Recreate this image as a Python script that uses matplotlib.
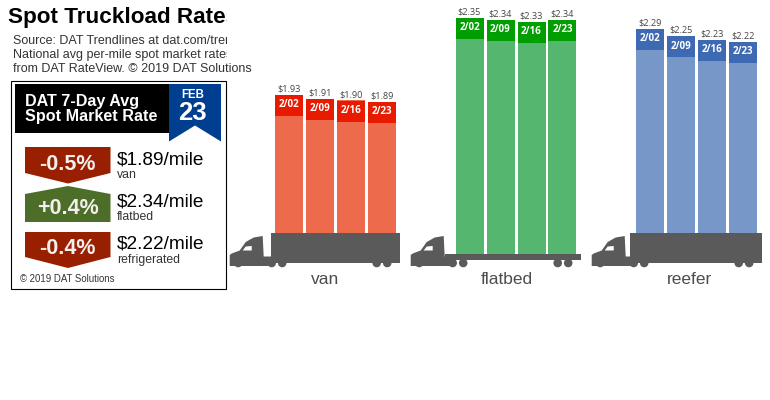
import matplotlib
matplotlib.use("Agg")
import matplotlib.pyplot as plt
from matplotlib.patches import Polygon, Rectangle, Circle

W, H = 770, 400
SANS = "Liberation Sans"
OPEN = "Open Sans"

weeks = ["2/02", "2/09", "2/16", "2/23"]
van = [1.93, 1.91, 1.90, 1.89]
flatbed = [2.35, 2.34, 2.33, 2.34]
reefer = [2.29, 2.25, 2.23, 2.22]
categories = ["van", "flatbed", "reefer"]
summary_changes = ["-0.5%", "+0.4%", "-0.4%"]
summary_rates = ["$1.89/mile", "$2.34/mile", "$2.22/mile"]
summary_labels = ["van", "flatbed", "refrigerated"]

fig = plt.figure(figsize=(W / 100, H / 100), dpi=100, facecolor="white")

def rect_axes(x0, y0, x1, y1, **kw):
    return fig.add_axes([x0 / W, 1 - y1 / H, (x1 - x0) / W, (y1 - y0) / H], **kw)

PX_PER_DOLLAR = 183.0
ZERO_PX = 448.2
BAND = 21 / PX_PER_DOLLAR
GRAY = "#5a5a5a"

def bars(x_left, bottom_px, values, body, band):
    ax = rect_axes(x_left, 0, x_left + 124, bottom_px)
    ax.set_xlim(-0.5, 3.5)
    ax.set_ylim((ZERO_PX - bottom_px) / PX_PER_DOLLAR, ZERO_PX / PX_PER_DOLLAR)
    ax.axis("off")
    low = ax.get_ylim()[0]
    xs = range(len(values))
    ax.bar(xs, [v - low for v in values], bottom=low, width=28 / 31, color=body, linewidth=0)
    ax.bar(xs, [BAND] * len(values), bottom=[v - BAND for v in values], width=28 / 31,
           color=band, linewidth=0)
    for x, v, wk in zip(xs, values, weeks):
        ax.text(x, v + 0.008, f"${v:.2f}", ha="center", va="bottom", fontsize=6.6,
                color="#444444", family=OPEN, clip_on=False)
        ax.text(x, v - BAND / 2 + 0.005, wk, ha="center", va="center", fontsize=7,
                color="white", family=OPEN, fontweight="bold")

bars(273.5, 233, van, "#ee6a4d", "#e81a00")
bars(454.0, 254, flatbed, "#55b76f", "#009e00")
bars(634.5, 233, reefer, "#7897c9", "#3d6ab3")

ov = rect_axes(0, 0, W, H, zorder=5)
ov.set_xlim(0, W)
ov.set_ylim(H, 0)
ov.axis("off")
ov.patch.set_alpha(0)

CAB = [(0, 264), (0, 255), (2, 253.5), (10, 250.5), (16, 242), (24, 237.5), (33, 236), (34, 256.5),
       (42, 256.5), (42, 266), (0, 266)]
WINDOW = [(13, 250.5), (22, 250.5), (22, 246), (16, 246.5)]

def truck(x0, kind):
    ov.add_patch(Polygon([(x0 + a, b) for a, b in CAB], closed=True, fc=GRAY, ec="none"))
    ov.add_patch(Polygon([(x0 + a, b) for a, b in WINDOW], closed=True, fc="white", ec="none"))
    if kind == "flatbed":
        ov.add_patch(Rectangle((x0 + 34, 253.5), 136, 6.5, fc=GRAY, ec="none"))
    else:
        start = 38.5 if kind == "reefer" else 41
        ov.add_patch(Rectangle((x0 + start, 232.5), 170 - start, 30, fc=GRAY, ec="none"))
    for dx in (8.5, 42, 52.5, 147, 157.5):
        ov.add_patch(Circle((x0 + dx, 263), 4.3, fc=GRAY, ec="none"))

truck(229.7, "van")
truck(410.7, "flatbed")
truck(591.7, "reefer")

for x, name in zip((325, 507, 689), categories):
    ov.text(x, 280, name, ha="center", va="center", fontsize=12.5, color="#4d4d4d", family=SANS)

# clipped header
head = rect_axes(0, 0, 227, 78, zorder=6)
head.set_xlim(0, 227)
head.set_ylim(78, 0)
head.axis("off")
head.text(8, 18, "Spot Truckload Rates", fontsize=16.2, fontweight="bold", family=SANS,
          color="black", va="center", clip_on=True)
head.text(13, 41, "Source: DAT Trendlines at dat.com/trendlines", fontsize=9.0, family=SANS,
          color="#333333", va="center", clip_on=True)
head.text(13, 55, "National avg per-mile spot market rates", fontsize=9.0, family=SANS,
          color="#333333", va="center", clip_on=True)
ov.text(13, 69, "from DAT RateView. © 2019 DAT Solutions", fontsize=9.0, family=SANS,
        color="#333333", va="center")

# summary panel
ov.add_patch(Rectangle((10.5, 80.5), 215, 208.5, fc="white", ec="black", lw=0.8))
ov.add_patch(Rectangle((15, 84), 155, 48.5, fc="black", ec="none"))
ov.add_patch(Polygon([(169, 84), (221, 84), (221, 141.5), (195, 125.5), (169, 141.5)],
                     closed=True, fc="#003f8f", ec="none"))
ov.text(25, 101.5, "DAT 7-Day Avg", fontsize=11.6, fontweight="bold", color="white",
        family=SANS, va="center")
ov.text(25, 117, "Spot Market Rate", fontsize=11.6, fontweight="bold", color="white",
        family=SANS, va="center")
ov.text(192.5, 95, "FEB", fontsize=8.3, fontweight="bold", color="white", family=SANS,
        ha="center", va="center")
ov.text(192.5, 113.5, "23", fontsize=18.5, fontweight="bold", color="white", family=SANS,
        ha="center", va="center")

RED, GREEN = "#982000", "#4c6e28"
pills = [
    ([(25, 147), (110.5, 147), (110.5, 173), (68, 183.5), (25, 173)], RED, 165),
    ([(25, 222), (110.5, 222), (110.5, 194), (68, 186), (25, 194)], GREEN, 208),
    ([(25, 232), (110.5, 232), (110.5, 257), (68, 268), (25, 257)], RED, 248),
]
rate_y = (159.5, 202, 244)
label_y = (175.5, 217.5, 259.5)
for (pts, col, ty), ch, rate, lab, ry, ly in zip(pills, summary_changes, summary_rates,
                                                 summary_labels, rate_y, label_y):
    ov.add_patch(Polygon(pts, closed=True, fc=col, ec="none"))
    ov.text(67.5, ty, ch, fontsize=15.5, fontweight="bold", color="#f4eeee", family=SANS,
            ha="center", va="center")
    ov.text(116.5, ry, rate, fontsize=13.7, color="black", family=SANS, va="center")
    ov.text(117, ly, lab, fontsize=8.8, color="#333333", family=SANS, va="center")
ov.text(20, 279.5, "© 2019 DAT Solutions", fontsize=6.9, color="#333333", family=SANS, va="center")

fig.savefig("out.png", dpi=100)
